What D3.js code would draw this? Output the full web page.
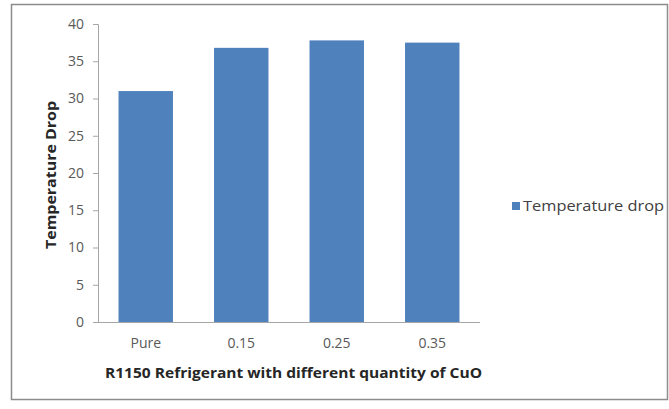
<!DOCTYPE html>
<html>
<head>
<meta charset="utf-8">
<script src="https://cdn.jsdelivr.net/npm/d3@7"></script>
<style>
  html, body { margin: 0; padding: 0; background: #fff; }
  svg { display: block; }
</style>
</head>
<body>
<svg id="chart" width="669" height="409"></svg>
<script>
// Temperature drop of R1150 with different CuO quantities
const categories = ["Pure", "0.15", "0.25", "0.35"];
const tempDrop = [31.0, 36.8, 37.8, 37.5];
const yTicks = [0, 5, 10, 15, 20, 25, 30, 35, 40];
const seriesName = "Temperature drop";

const svg = d3.select("#chart");
const font = "'Open Sans', Lato, sans-serif";

// outer frame
svg.append("rect")
  .attr("x", 11.5).attr("y", 4.5)
  .attr("width", 656).attr("height", 395)
  .attr("fill", "#fff")
  .attr("stroke", "#8c8c8c").attr("stroke-width", 1.5);

const plot = { left: 98, right: 480, top: 24, bottom: 322 };

const x = d3.scaleBand()
  .domain(categories)
  .range([plot.left, plot.right])
  .paddingInner(0.43)
  .paddingOuter(0.215);

const y = d3.scaleLinear()
  .domain([0, 40])
  .range([plot.bottom, plot.top]);

// bars
svg.append("g").selectAll("rect")
  .data(categories)
  .join("rect")
  .attr("x", d => x(d))
  .attr("y", (d, i) => y(tempDrop[i]))
  .attr("width", x.bandwidth())
  .attr("height", (d, i) => y(0) - y(tempDrop[i]))
  .attr("fill", "#4f81bd");

// y axis
const yAxis = svg.append("g")
  .attr("transform", `translate(${plot.left},0)`)
  .call(d3.axisLeft(y).tickValues(yTicks).tickSize(5).tickPadding(9));
yAxis.select(".domain").attr("stroke", "#a6a6a6");
yAxis.selectAll(".tick line").attr("stroke", "#a6a6a6");
yAxis.selectAll(".tick text")
  .attr("font-family", font).attr("font-size", 14)
  .attr("fill", "#595959");

// x axis
const xAxis = svg.append("g")
  .attr("transform", `translate(0,${plot.bottom})`)
  .call(d3.axisBottom(x).tickSize(0).tickPadding(16));
xAxis.select(".domain").attr("stroke", "#a6a6a6")
  .attr("d", `M${plot.left - 5},0.5H${plot.right}`);
xAxis.selectAll(".tick text")
  .attr("font-family", font).attr("font-size", 14)
  .attr("fill", "#595959");

// axis titles
svg.append("text")
  .attr("x", 105).attr("y", 378)
  .attr("textLength", 377).attr("lengthAdjust", "spacingAndGlyphs")
  .attr("font-family", font).attr("font-size", 14.5)
  .attr("font-weight", "bold").attr("fill", "#262626")
  .text("R1150 Refrigerant with different quantity of CuO");

svg.append("text")
  .attr("transform", "translate(56,249) rotate(-90)")
  .attr("textLength", 148).attr("lengthAdjust", "spacingAndGlyphs")
  .attr("font-family", font).attr("font-size", 14.5)
  .attr("font-weight", "bold").attr("fill", "#262626")
  .text("Temperature Drop");

// legend
const legend = svg.append("g").attr("transform", "translate(512,202)");
legend.append("rect")
  .attr("width", 8).attr("height", 8)
  .attr("fill", "#4f81bd");
legend.append("text")
  .attr("x", 11).attr("y", 8.5)
  .attr("textLength", 141).attr("lengthAdjust", "spacingAndGlyphs")
  .attr("font-family", font).attr("font-size", 15)
  .attr("fill", "#404040")
  .text(seriesName);
</script>
</body>
</html>
